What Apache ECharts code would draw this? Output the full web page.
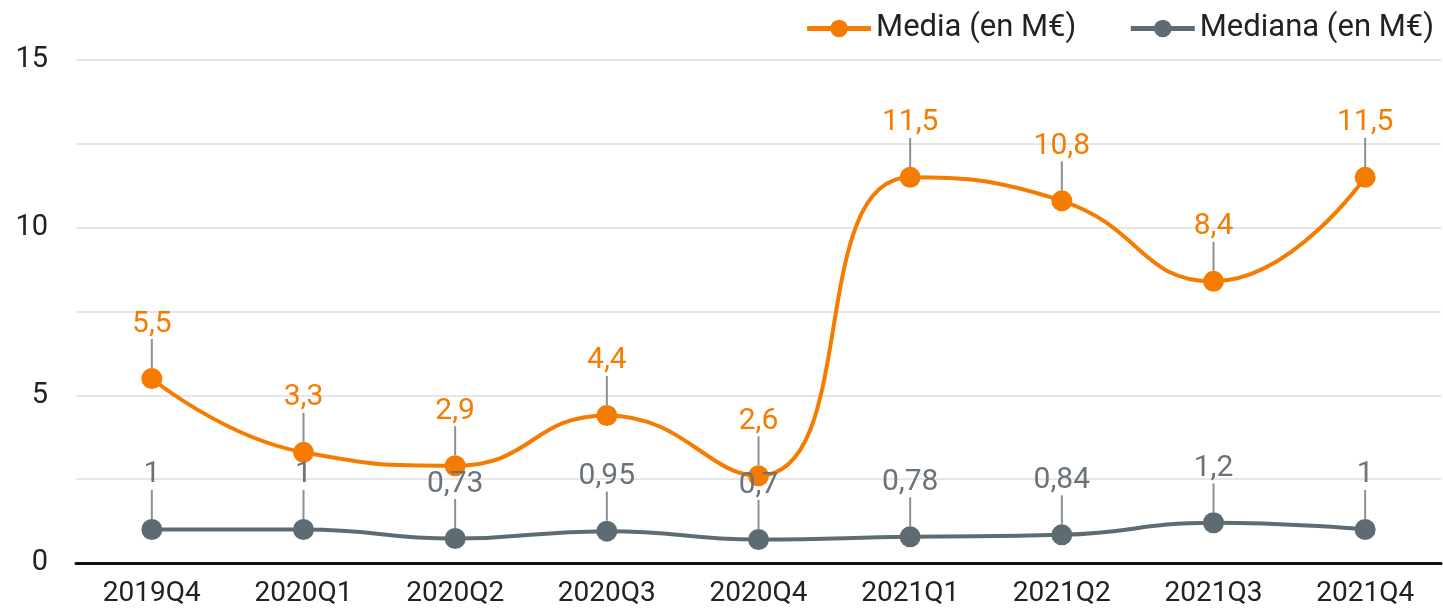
<!DOCTYPE html>
<html>
<head>
<meta charset="utf-8">
<script src="https://cdn.jsdelivr.net/npm/echarts@6/dist/echarts.min.js"></script>
<style>
  html, body { margin: 0; padding: 0; background: #fff; }
  #chart { width: 1443px; height: 611px; }
</style>
</head>
<body>
<div id="chart"></div>
<script>
var quarters = ['2019Q4', '2020Q1', '2020Q2', '2020Q3', '2020Q4', '2021Q1', '2021Q2', '2021Q3', '2021Q4'];
var media = [5.5, 3.3, 2.9, 4.4, 2.6, 11.5, 10.8, 8.4, 11.5];
var mediana = [1, 1, 0.73, 0.95, 0.7, 0.78, 0.84, 1.2, 1];

var orange = '#f57c00';
var grey = '#5f6b73';

var chart = echarts.init(document.getElementById('chart'));

function coma(p) {
    return String(p.value).replace('.', ',');
}

function serie(name, data, color, textColor) {
    return {
        name: name,
        type: 'line',
        data: data,
        smooth: true,
        symbol: 'circle',
        symbolSize: 21,
        lineStyle: { width: 4, color: color },
        itemStyle: { color: color },
        label: {
            show: true,
            position: 'top',
            distance: 5,
            formatter: coma,
            color: textColor,
            fontSize: 30,
            fontFamily: 'Roboto'
        },
        labelLayout: { dy: -24 },
        labelLine: {
            show: true,
            lineStyle: { color: '#8a9096', width: 2 }
        }
    };
}

var option = {
    backgroundColor: '#fff',
    textStyle: { fontFamily: 'Roboto' },
    legend: {
        right: 4,
        top: 8,
        itemWidth: 64,
        itemHeight: 22,
        itemGap: 52,
        lineStyle: { width: 5 },
        textStyle: { fontSize: 31, color: '#222', fontFamily: 'Roboto' },
        data: ['Media (en M€)', 'Mediana (en M€)']
    },
    grid: { left: 76, right: 2, top: 60, bottom: 48 },
    xAxis: {
        type: 'category',
        data: quarters,
        boundaryGap: true,
        axisLine: { lineStyle: { color: '#111', width: 3 } },
        axisTick: { show: false },
        axisLabel: { fontSize: 28, color: '#222', margin: 17 }
    },
    yAxis: {
        type: 'value',
        min: 0,
        max: 15,
        interval: 2.5,
        axisLine: { show: false },
        axisTick: { show: false },
        splitLine: { lineStyle: { color: '#e6e6e6', width: 2 } },
        axisLabel: {
            fontSize: 29,
            color: '#222',
            margin: 28,
            formatter: function (v) { return v % 5 === 0 ? v : ''; }
        }
    },
    series: [
        serie('Media (en M€)', media, orange, orange),
        serie('Mediana (en M€)', mediana, grey, '#6a737a')
    ]
};

chart.setOption(option);
</script>
</body>
</html>
